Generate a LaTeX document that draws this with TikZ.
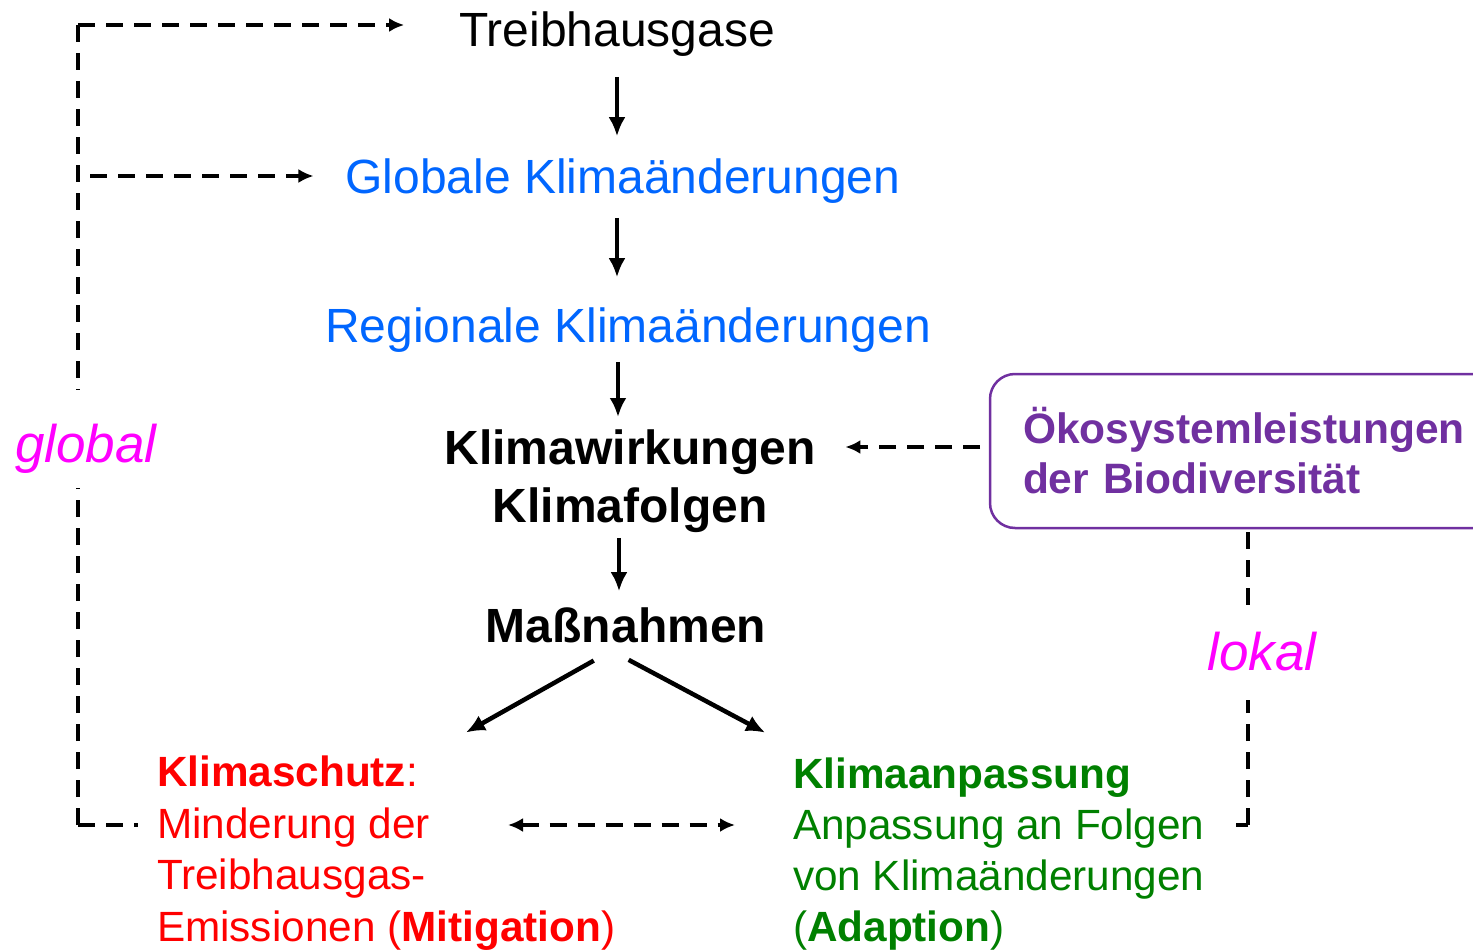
\documentclass[tikz,border=0pt]{standalone}
\usepackage{fontspec}
\setmainfont{Liberation Sans}
\usetikzlibrary{arrows.meta,positioning}
\definecolor{kblue}{RGB}{0,102,255}
\definecolor{kred}{RGB}{255,0,0}
\definecolor{kgreen}{RGB}{0,128,0}
\definecolor{kpurple}{RGB}{112,48,160}
\definecolor{kmagenta}{RGB}{255,0,255}

\begin{document}
\begin{tikzpicture}[x=1pt,y=-1pt,>=Latex,
    every node/.style={inner sep=0pt,outer sep=0pt},
    big/.style={font=\fontsize{48}{58}\selectfont},
    bigbold/.style={font=\fontsize{48}{58}\selectfont\bfseries},
    small/.style={font=\fontsize{42.3}{51.5}\selectfont,align=left},
    hint/.style={font=\fontsize{53}{60}\selectfont\itshape,text=kmagenta},
    flow/.style={-{Latex[length=19pt,width=17pt]},line width=4.5pt},
    dashline/.style={line width=3.5pt,dash pattern=on 17pt off 11pt,-{Latex[length=15pt,width=14pt]}}]
    \useasboundingbox (0,0) rectangle (1473,950);
    \clip (0,0) rectangle (1473,950);
    % chain in the middle
    \node[big,anchor=base] (treib) at (617,47) {Treibhausgase};
    \node[big,anchor=base,text=kblue] (glob) at (623,193) {Globale Klimaänderungen};
    \node[big,anchor=base,text=kblue] (reg) at (628,342) {Regionale Klimaänderungen};
    \node[bigbold,anchor=north,align=center] (wirk) at (630,430) {Klimawirkungen\\Klimafolgen};
    \node[bigbold,anchor=base] (mass) at (626,642) {Maßnahmen};
    \node[small,anchor=north west,text=kred] (mit) at (157,756)
      {\textbf{Klimaschutz}:\\Minderung der\\Treibhausgas-\\Emissionen (\textbf{Mitigation})};
    \node[small,anchor=north west,text=kgreen,font=\fontsize{42.3}{51}\selectfont] (ad) at (793,758)
      {\textbf{Klimaanpassung}\\Anpassung an Folgen\\von Klimaänderungen\\(\textbf{Adaption})};
    \node[draw=kpurple,line width=2.5pt,rounded corners=25pt,anchor=north west,
      minimum width=530pt,minimum height=154pt,text width=464pt,inner xsep=33pt,
      align=left,text=kpurple,font=\fontsize{42.5}{50}\selectfont\bfseries] (eco) at (990,374)
      {Ökosystemleistungen\\der Biodiversität};
    \node[hint,anchor=base] (glab) at (86,462) {global};
    \node[hint,anchor=base] (llab) at (1262,670) {lokal};
    \draw[flow,shorten <=20pt,shorten >=22pt] (treib.south) -- (treib.south |- glob.north);
    \draw[flow,shorten <=15pt,shorten >=30pt] (treib.south |- glob.south) -- (treib.south |- reg.north);
    \draw[flow,shorten <=10pt,shorten >=13pt] ([xshift=-10pt]reg.south) -- ([xshift=-10pt]reg.south |- wirk.north);
    \draw[flow,shorten <=5pt,shorten >=16pt] ([xshift=-11pt]wirk.south) -- ([xshift=-11pt]wirk.south |- mass.north);
    \draw[flow,shorten <=37pt,shorten >=48pt] (mass.south) -- ([xshift=38pt]mit.north);
    \draw[flow,shorten <=37pt,shorten >=54pt] ([xshift=-30pt]mass.south) -- ([xshift=-186pt]ad.north);
    % global
    \coordinate (gtop) at (78,25);
    \coordinate (gmid) at (78,176);
    \coordinate (gup) at (78,390);
    \coordinate (gdn) at (78,488);
    \coordinate (gbot) at (78,825);
    \draw[dashline,-] (gtop) -- (gup);
    \draw[dashline] (gtop) -- ([xshift=-55pt]treib.west |- gtop);
    \draw[dashline] ([xshift=12pt]gmid) -- ([xshift=-32pt]glob.west |- gmid);
    \draw[dashline,-] (gbot) -- (gdn);
    \draw[dashline,-] (gbot) -- ([xshift=-19pt]mit.west |- gbot);
    % lokal
    \coordinate (lup) at (1248,605);
    \coordinate (ldn) at (1248,700);
    \coordinate (lbot) at (1248,825);
    \draw[dashline,-] ([yshift=-4pt]eco.south -| lup) -- (lup);
    \draw[dashline,-] (lbot) -- (ldn);
    \draw[dashline,-] (lbot) -- ([xshift=31pt]ad.east |- lbot);
    \draw[dashline] ([xshift=-10pt,yshift=4pt]eco.west) -- ([xshift=30pt]wirk.east |- 0,447);
    \draw[dashline,{Latex[length=15pt,width=14pt]}-{Latex[length=15pt,width=14pt]}]
      ([xshift=351pt]mit.west |- gbot) -- ([xshift=-58pt]ad.west |- gbot);
\end{tikzpicture}
\end{document}
